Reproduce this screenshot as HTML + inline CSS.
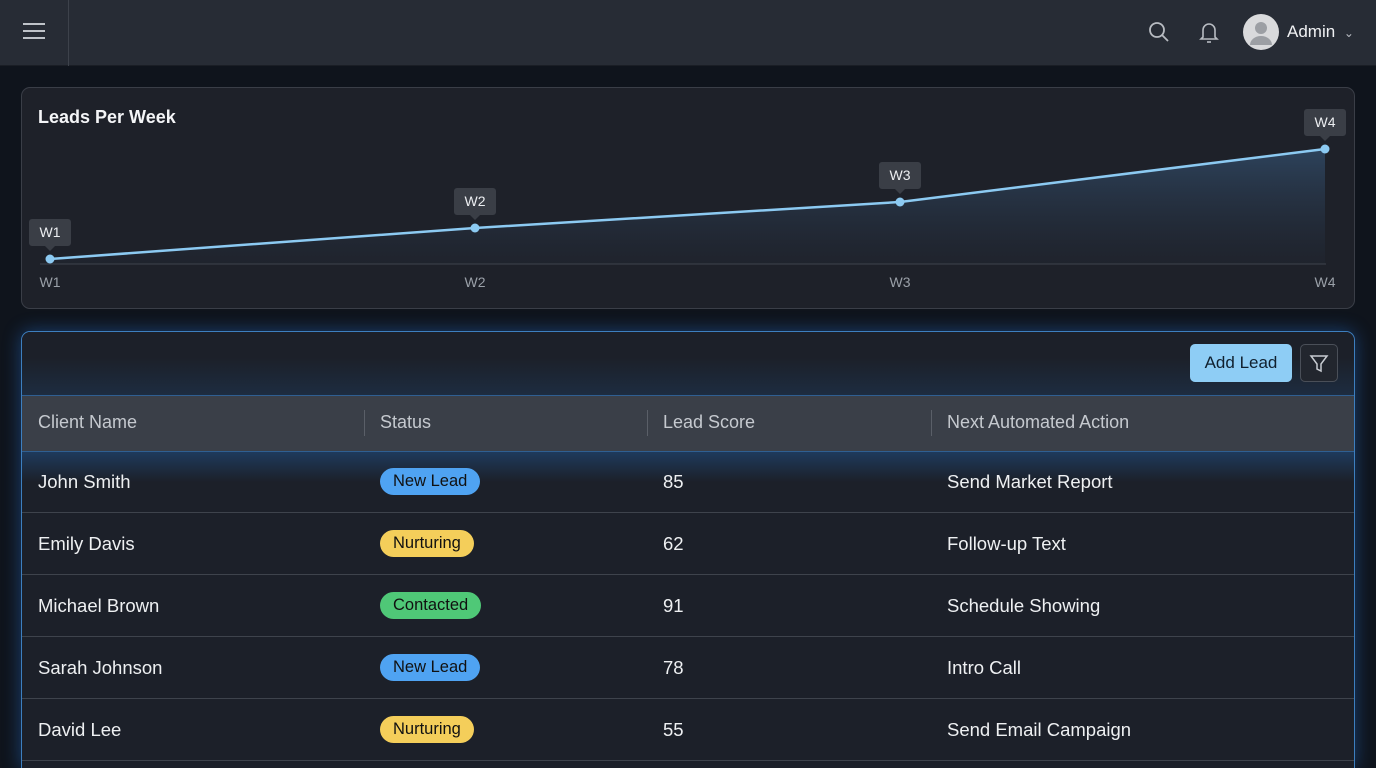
<!DOCTYPE html>
<html style="width:1376px;height:768px;overflow:hidden"><head><meta charset="utf-8"><style>
*{box-sizing:border-box;margin:0;padding:0}
body{width:1376px;height:768px;overflow:hidden;background:#0f141c;font-family:"Liberation Sans",sans-serif;color:#e6e8eb;position:relative}
.top{position:absolute;left:0;top:0;width:1376px;height:66px;background:#272c35;border-bottom:1px solid #1a1e25}
.abs{position:absolute}
.card{position:absolute;left:21px;top:87px;width:1334px;height:222px;background:#1e2129;border:1px solid #3a3e47;border-radius:9px}
.tcard{position:absolute;left:21px;top:331px;width:1334px;height:437px;background:#1c2029;border:1px solid #3d7fbf;border-bottom:none;border-radius:9px 9px 0 0;box-shadow:0 0 18px rgba(40,120,220,.45);overflow:hidden}
.th{position:absolute;left:0;top:63px;width:1334px;height:57px;background:#3a3f48;border-top:1px solid #2f5f92;border-bottom:1px solid #2f5f92}
.hc{position:absolute;top:16px;font-size:18px;color:#c5c9cf}
.sep{position:absolute;top:14px;width:1px;height:26px;background:#5a5f68}
.row{position:absolute;left:0;width:1334px;height:62px;border-bottom:1px solid #3e434c}
.c{position:absolute;top:20px;font-size:18.5px;color:#eef0f2}
.pill{position:absolute;top:17px;height:27px;padding:0 13px;border-radius:14px;font-size:16.5px;line-height:27px;color:#111}
</style></head><body>
<div class="top">
  <div class="abs" style="left:23px;top:23px;width:22px;height:18px">
    <div style="height:2px;background:#bfc3c9;margin-bottom:5px"></div><div style="height:2px;background:#bfc3c9;margin-bottom:5px"></div><div style="height:2px;background:#bfc3c9"></div>
  </div>
  <div class="abs" style="left:68px;top:0;width:1px;height:66px;background:#3d424b"></div>
  <svg class="abs" style="left:1147px;top:20px" width="24" height="24"><circle cx="10" cy="10" r="7" stroke="#b8bcc2" stroke-width="1.8" fill="none"/><line x1="15" y1="15" x2="21" y2="21" stroke="#b8bcc2" stroke-width="1.8"/></svg>
  <svg class="abs" style="left:1198px;top:20px" width="22" height="24"><path d="M5 17 V10 a6 6 0 0 1 12 0 V17 L19 19 H3 Z" stroke="#b8bcc2" stroke-width="1.6" fill="none"/><line x1="9" y1="22" x2="13" y2="22" stroke="#b8bcc2" stroke-width="1.6"/></svg>
  <svg class="abs" style="left:1243px;top:14px" width="36" height="36"><circle cx="18" cy="18" r="18" fill="#d9dadc"/><circle cx="18" cy="14" r="6" fill="#9c9fa4"/><path d="M7 31 a11 9 0 0 1 22 0 Z" fill="#9c9fa4"/></svg>
  <div class="abs" style="left:1287px;top:22px;font-size:17px;color:#f0f1f3">Admin <span style="font-size:12px;color:#b8bcc2;margin-left:4px">&#8964;</span></div>
</div>

<div class="card">
  <div class="abs" style="left:16px;top:19px;font-size:18px;font-weight:bold;color:#f4f5f7">Leads Per Week</div>
</div>
<svg id="chart" class="abs" style="left:0;top:0" width="1376" height="320">
  <defs><linearGradient id="g" x1="0" y1="0" x2="0" y2="1"><stop offset="0" stop-color="#3a5f86" stop-opacity=".55"/><stop offset="1" stop-color="#2a3a50" stop-opacity=".1"/></linearGradient></defs>
</svg>

<div class="tcard">
  <div class="abs" style="left:0;top:0;width:1334px;height:63px;background:linear-gradient(#1c2029 40%,#1d2c40)"></div>
  <div class="abs" style="left:0;top:120px;width:1334px;height:30px;background:linear-gradient(#1e3a5c,rgba(28,32,41,0))"></div>
  <div class="abs" style="left:1168px;top:12px;width:102px;height:38px;background:#8ecdf5;border-radius:5px;color:#10202e;font-size:17px;line-height:38px;text-align:center">Add Lead</div>
  <div class="abs" style="left:1278px;top:12px;width:38px;height:38px;border:1px solid #4a4f58;border-radius:5px;background:#22262e">
    <svg width="36" height="36"><path d="M10 11 H26 L20 19 V26 L16 24 V19 Z" stroke="#c8ccd2" stroke-width="1.5" fill="none"/></svg>
  </div>
  <div class="th">
    <div class="hc" style="left:16px">Client Name</div>
    <div class="sep" style="left:342px"></div><div class="hc" style="left:358px">Status</div>
    <div class="sep" style="left:625px"></div><div class="hc" style="left:641px">Lead Score</div>
    <div class="sep" style="left:909px"></div><div class="hc" style="left:925px">Next Automated Action</div>
  </div>
  <div id="rows"></div>
</div>

<script>
const weeks=["W1","W2","W3","W4"];
const leads=[5,36,62,115];
const xs=i=>50+i*425;
const ys=v=>264-v;
const svg=document.getElementById('chart');
const NS="http://www.w3.org/2000/svg";
function mk(t,a){const e=document.createElementNS(NS,t);for(const k in a)e.setAttribute(k,a[k]);svg.appendChild(e);return e;}
let pts=leads.map((v,i)=>[xs(i),ys(v)]);
const area=mk('path',{d:'M'+pts.map(p=>p.join(',')).join(' L')+` L${xs(3)},264 L${xs(0)},264 Z`,fill:'url(#g)'});


const base=mk('line',{x1:40,y1:264,x2:1326,y2:264,stroke:'#3f444d','stroke-width':1});


const line=mk('polyline',{points:pts.map(p=>p.join(',')).join(' '),fill:'none',stroke:'#8ccaf2','stroke-width':2.5});


weeks.forEach((w,i)=>{
  const x=xs(i),y=ys(leads[i]);
  const d=mk('circle',{cx:x,cy:y,r:4.5,fill:'#8ccaf2'});
  
  
  const tip=mk('path',{d:`M${x-18},${y-40} h36 a3 3 0 0 1 3 3 v21 a3 3 0 0 1 -3 3 h-13 l-5 5 l-5 -5 h-13 a3 3 0 0 1 -3 -3 v-21 a3 3 0 0 1 3 -3 Z`,fill:'#3a3e46'});
  
  
  const tt=mk('text',{x:x,y:y-22,'text-anchor':'middle','font-size':14,fill:'#eceef1','font-family':'Liberation Sans'});tt.textContent=w;
  
  
  const tl=mk('text',{x:x,y:287,'text-anchor':'middle','font-size':14,fill:'#9aa0a8','font-family':'Liberation Sans'});tl.textContent=w;
  
  
});
const names=["John Smith","Emily Davis","Michael Brown","Sarah Johnson","David Lee"];
const statuses=["New Lead","Nurturing","Contacted","New Lead","Nurturing"];
const scores=["85","62","91","78","55"];
const actions=["Send Market Report","Follow-up Text","Schedule Showing","Intro Call","Send Email Campaign"];
const colors={"New Lead":"#4fa3f2","Nurturing":"#f4ce5a","Contacted":"#4fc877"};
const rows=document.getElementById('rows');
names.forEach((n,i)=>{
  const r=document.createElement('div');r.className='row';r.style.top=(120+i*62-1)+'px';
  
  
  r.innerHTML=`<div class="c" style="left:16px">${n}</div><div class="pill" style="left:358px;background:${colors[statuses[i]]}">${statuses[i]}</div><div class="c" style="left:641px">${scores[i]}</div><div class="c" style="left:925px">${actions[i]}</div>`;
  rows.appendChild(r);
});
</script>
</body></html>
